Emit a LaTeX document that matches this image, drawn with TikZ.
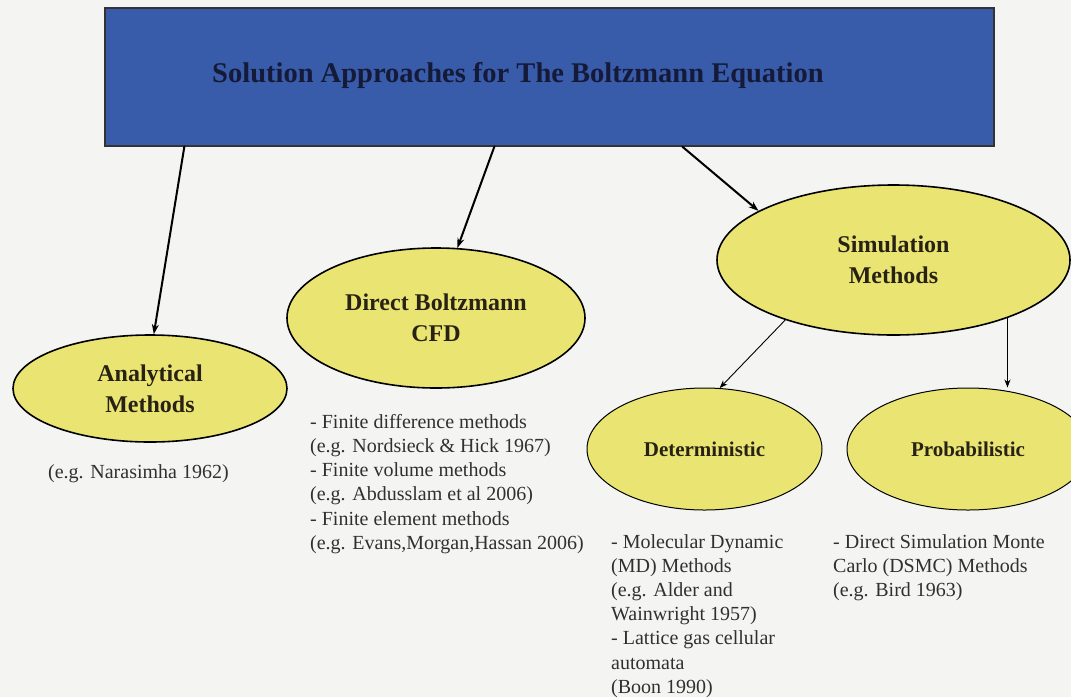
\documentclass[tikz,border=0pt]{standalone}
\usepackage{fontspec}
\setmainfont{Liberation Serif}
\usetikzlibrary{arrows.meta,shapes.geometric}
\definecolor{boxblue}{RGB}{56,92,170}
\definecolor{ovalyellow}{RGB}{234,229,114}
\definecolor{paper}{RGB}{244,244,242}
\definecolor{notegray}{RGB}{48,48,48}
\definecolor{headink}{RGB}{40,34,20}
\definecolor{titleink}{RGB}{20,26,56}

\begin{document}
\begin{tikzpicture}[x=1pt,y=-1pt,>={Stealth[length=10pt,width=7pt]},line cap=round,
  oval/.style={ellipse,draw=black,line width=1.6pt,fill=ovalyellow,inner sep=0pt,align=center,
    text=headink,font=\fontsize{24}{31}\selectfont\bfseries},
  leaf/.style={oval,line width=1pt,font=\fontsize{21}{25}\selectfont\bfseries},
  note/.style={anchor=north west,inner sep=0pt,align=left,text=notegray,
    font=\fontsize{20}{24.2}\selectfont},
  bigarrow/.style={->,line width=2pt},
  smallarrow/.style={-{Stealth[length=8pt,width=6pt]},line width=0.9pt}]
\useasboundingbox (0,0) rectangle (1071,697);
\fill[paper] (0,0) rectangle (1071,697);
% top box
\node[draw=black!80,line width=1.3pt,fill=boxblue,minimum width=889pt,minimum height=138pt,inner sep=0pt]
  (title) at (549.5,77) {};
\node[text=titleink,font=\fontsize{28.5}{34}\selectfont\bfseries] (titletext) at (518,75)
  {Solution Approaches for The Boltzmann Equation};
% ovals
\node[oval,minimum width=274pt,minimum height=107pt] (ana) at (150,388.5) {Analytical\\Methods};
\node[oval,minimum width=298pt,minimum height=140pt] (cfd) at (436,318) {Direct Boltzmann\\CFD};
\node[oval,minimum width=353pt,minimum height=150pt] (sim) at (893.5,260) {Simulation\\Methods};
\node[leaf,minimum width=235pt,minimum height=122pt] (det) at (704.5,449) {Deterministic};
\node[leaf,minimum width=242pt,minimum height=122pt] (prob) at (968,449) {Probabilistic};
% arrows
\draw[bigarrow] ([xshift=80pt]title.south west) -- (ana.86);
\draw[bigarrow] ([xshift=390pt]title.south west) -- (cfd.73);
\draw[bigarrow] ([xshift=578pt]title.south west) -- (sim.160);
\draw[smallarrow] (sim.209) -- (det.76);
\draw[smallarrow] (sim.-27.5) -- (sim.-27.5 |- prob.north);
% notes
\node[note] (anatext) at (48,464) {(e.g. Narasimha 1962)};
\node[note] (cfdtext) at (310,414) {- Finite difference methods\\(e.g. Nordsieck \& Hick 1967)\\
  - Finite volume methods\\(e.g. Abdusslam et al 2006)\\- Finite element methods\\
  (e.g. Evans,Morgan,Hassan 2006)};
\node[note] (dettext) at (611,534) {- Molecular Dynamic\\(MD) Methods\\(e.g. Alder and\\
  Wainwright 1957)\\- Lattice gas cellular\\automata\\(Boon 1990)};
\node[note] (probtext) at (833,534) {- Direct Simulation Monte\\Carlo (DSMC) Methods\\(e.g. Bird 1963)};
\end{tikzpicture}
\end{document}
